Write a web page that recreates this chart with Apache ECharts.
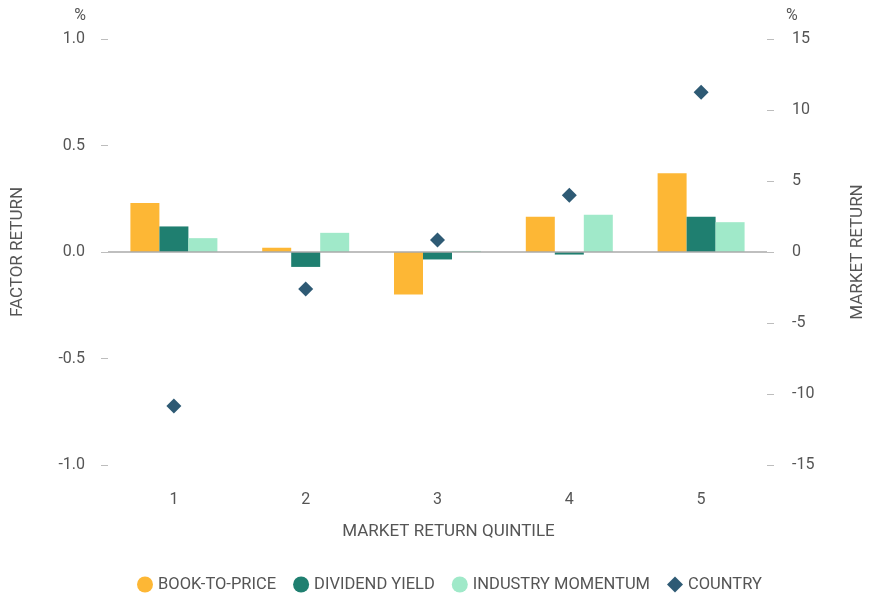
<!DOCTYPE html>
<html>
<head>
<meta charset="utf-8">
<script src="https://cdn.jsdelivr.net/npm/echarts@6/dist/echarts.min.js"></script>
<style>
  html, body { margin: 0; padding: 0; background: #fff; }
  #chart { width: 871px; height: 601px; }
</style>
</head>
<body>
<div id="chart"></div>
<script>
// data
var quintiles = ['1', '2', '3', '4', '5'];
var bookToPrice = [0.23, 0.02, -0.20, 0.165, 0.37];
var dividendYield = [0.12, -0.07, -0.035, -0.012, 0.165];
var industryMomentum = [0.065, 0.09, 0.005, 0.175, 0.14];
var country = [-10.85, -2.6, 0.85, 4.0, 11.25];

var FONT = 'Roboto';
var FS = 16;       // tick labels
var FS_NAME = 17;  // axis titles
var FS_LEG = 16.5; // legend
var TEXT = '#555';
var TICK = '#bdbdbd';

var myChart = echarts.init(document.getElementById('chart'));

function makeOption() {
    return {
        animation: false,
        textStyle: { fontFamily: FONT, color: TEXT },
        grid: { left: 108, right: 104, top: 39, bottom: 136, containLabel: false, outerBoundsMode: 'none' },
        legend: {
            bottom: 3,
            left: 132,
            itemWidth: 16,
            itemHeight: 16,
            itemGap: 17,
            textStyle: { fontFamily: FONT, fontSize: FS_LEG, color: TEXT },
            data: [
                { name: 'BOOK-TO-PRICE', icon: 'circle' },
                { name: 'DIVIDEND YIELD', icon: 'circle' },
                { name: 'INDUSTRY MOMENTUM', icon: 'circle' },
                { name: 'COUNTRY', icon: 'diamond' }
            ]
        },
        xAxis: {
            type: 'category',
            data: quintiles,
            position: 'bottom',
            axisLine: { show: false },
            axisTick: { show: false },
            axisLabel: { margin: 27, fontSize: FS, color: TEXT, fontFamily: FONT },
            name: 'MARKET RETURN QUINTILE',
            nameLocation: 'middle',
            nameGap: 58,
            nameTextStyle: { fontSize: FS_NAME, color: TEXT, fontFamily: FONT, padding: [0, 0, 0, 22] }
        },
        yAxis: [{
            type: 'value',
            min: -1, max: 1, interval: 0.5,
            position: 'left',
            splitLine: { show: false },
            axisLine: { show: false },
            axisTick: { show: true, length: 7, lineStyle: { color: TICK } },
            axisLabel: {
                margin: 23, fontSize: FS, color: TEXT, fontFamily: FONT,
                formatter: function (v) { return v.toFixed(1); }
            },
            name: '%',
            nameGap: 15,
            nameTextStyle: { align: 'right', padding: [0, 22, 0, 0], fontSize: FS, color: TEXT, fontFamily: FONT }
        }, {
            type: 'value',
            min: -15, max: 15, interval: 5,
            position: 'right',
            splitLine: { show: false },
            axisLine: { show: false },
            axisTick: { show: true, length: 7, lineStyle: { color: TICK } },
            axisLabel: { margin: 25, fontSize: FS, color: TEXT, fontFamily: FONT },
            name: '%',
            nameGap: 15,
            nameTextStyle: { align: 'left', padding: [0, 0, 0, 19], fontSize: FS, color: TEXT, fontFamily: FONT }
        }, {
            // carries the rotated left title only
            type: 'value',
            min: -1, max: 1,
            position: 'left',
            splitLine: { show: false },
            axisLine: { show: false },
            axisTick: { show: false },
            axisLabel: { show: false },
            name: 'FACTOR RETURN',
            nameLocation: 'middle',
            nameGap: 82,
            nameTextStyle: { fontSize: FS_NAME, color: TEXT, fontFamily: FONT }
        }, {
            // carries the rotated right title only
            type: 'value',
            min: -15, max: 15,
            position: 'right',
            splitLine: { show: false },
            axisLine: { show: false },
            axisTick: { show: false },
            axisLabel: { show: false },
            name: 'MARKET RETURN',
            nameLocation: 'middle',
            nameGap: 82,
            nameTextStyle: { fontSize: FS_NAME, color: TEXT, fontFamily: FONT }
        }],
        series: [{
            name: 'BOOK-TO-PRICE',
            type: 'bar',
            yAxisIndex: 0,
            barGap: '0%',
            barCategoryGap: '34%',
            itemStyle: { color: '#FDB735' },
            data: bookToPrice,
            markLine: {
                silent: true,
                symbol: 'none',
                label: { show: false },
                lineStyle: { color: '#aaaaaa', width: 1.5, type: 'solid' },
                data: [{ yAxis: 0 }]
            }
        }, {
            name: 'DIVIDEND YIELD',
            type: 'bar',
            yAxisIndex: 0,
            itemStyle: { color: '#1F7F70' },
            data: dividendYield
        }, {
            name: 'INDUSTRY MOMENTUM',
            type: 'bar',
            yAxisIndex: 0,
            itemStyle: { color: '#A0E9C9' },
            data: industryMomentum
        }, {
            name: 'COUNTRY',
            type: 'scatter',
            yAxisIndex: 1,
            symbol: 'diamond',
            symbolSize: 15,
            itemStyle: { color: '#2E5A74', opacity: 1 },
            data: country,
            z: 5
        }]
    };
}

myChart.setOption(makeOption());
</script>
</body>
</html>
